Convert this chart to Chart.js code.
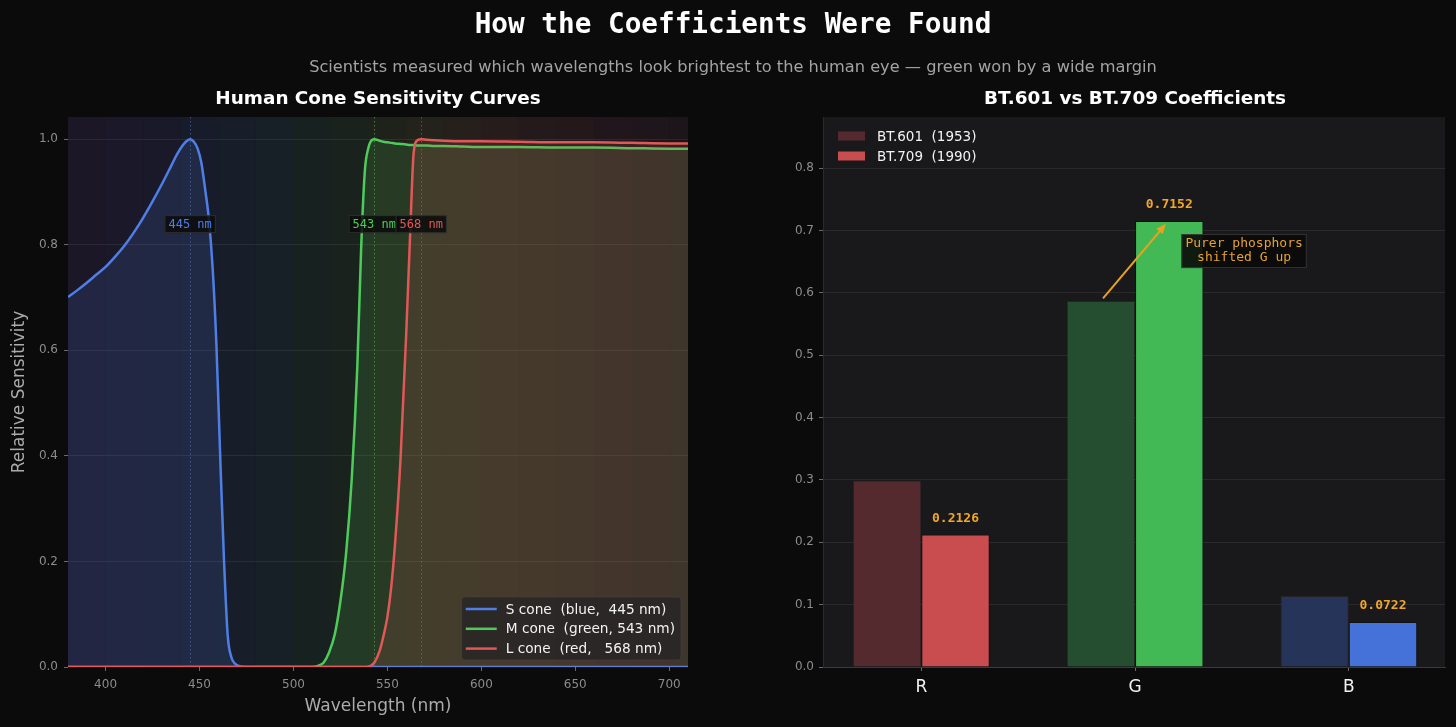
<!DOCTYPE html>
<html>
<head>
<meta charset="utf-8">
<script src="https://cdn.jsdelivr.net/npm/chart.js@4.4.1/dist/chart.umd.min.js"></script>
<style>
html,body{margin:0;padding:0;background:#0b0b0b;width:1456px;height:727px;overflow:hidden;}
#wrap{position:relative;width:1456px;height:727px;}
canvas{position:absolute;top:0;}
.t{position:absolute;white-space:nowrap;transform:translate(-50%,-50%);line-height:1;}
</style>
</head>
<body>
<div id="wrap">
<canvas id="left" width="728" height="727" style="left:0;width:728px;height:727px"></canvas>
<canvas id="right" width="728" height="727" style="left:728px;width:728px;height:727px"></canvas>
<div class="t" style="left:733px;top:23px;font:bold 27.7px 'DejaVu Sans Mono';color:#ffffff">How the Coefficients Were Found</div>
<div class="t" style="left:733px;top:66px;font:16.2px 'DejaVu Sans';color:#a3a3a3">Scientists measured which wavelengths look brightest to the human eye — green won by a wide margin</div>
<div class="t" style="left:378px;top:97px;font:bold 18.4px 'DejaVu Sans';color:#ffffff">Human Cone Sensitivity Curves</div>
<div class="t" style="left:1135px;top:97px;font:bold 18.4px 'DejaVu Sans';color:#ffffff">BT.601 vs BT.709 Coefficients</div>
</div>
<script>
// ---------------- data ----------------
const wavelengths = [380,385,390,395,400,405,410,415,420,425,430,435,438,441,443,445,447,449,451,453,455,457,459,461,463,465,467,469,472,476,480,490,500,510,513,516,519,522,525,528,531,534,536,538,540,541,543,546,548,550,552,554,557,560,562,564,566,568,571,575,580,590,600,620,640,660,680,700,710];
const sCone = [0.701,0.714,0.728,0.743,0.758,0.777,0.798,0.823,0.851,0.882,0.915,0.950,0.971,0.988,0.996,1.000,0.995,0.982,0.955,0.905,0.848,0.755,0.610,0.400,0.205,0.060,0.018,0.006,0.001,0,0,0,0,0,0,0,0,0,0,0,0,0,0,0,0,0,0,0,0,0,0,0,0,0,0,0,0,0,0,0,0,0,0,0,0,0,0,0,0];
const mCone = [0,0,0,0,0,0,0,0,0,0,0,0,0,0,0,0,0,0,0,0,0,0,0,0,0,0,0,0,0,0,0,0,0,0,0.002,0.008,0.028,0.062,0.125,0.215,0.355,0.570,0.790,0.940,0.985,0.995,1.000,0.997,0.995,0.994,0.993,0.992,0.991,0.990,0.989,0.989,0.988,0.988,0.988,0.987,0.987,0.986,0.985,0.985,0.984,0.984,0.983,0.982,0.982];
const lCone = [0,0,0,0,0,0,0,0,0,0,0,0,0,0,0,0,0,0,0,0,0,0,0,0,0,0,0,0,0,0,0,0,0,0,0,0,0,0,0,0,0,0,0,0,0.001,0.002,0.008,0.032,0.060,0.095,0.150,0.230,0.395,0.630,0.810,0.975,0.998,1.000,0.999,0.998,0.997,0.996,0.996,0.995,0.994,0.994,0.993,0.992,0.992];
const coneLabels = ['S cone  (blue,  445 nm)','M cone  (green, 543 nm)','L cone  (red,   568 nm)'];
const peakWavelengths = [445, 543, 568];
const peakLabels = ['445 nm', '543 nm', '568 nm'];
const peakLabelLevel = 0.839;
const wlTicks = [400,450,500,550,600,650,700];
const sensTicks = [0,0.2,0.4,0.6,0.8,1.0];

const channels = ['R','G','B'];
const bt601 = [0.299, 0.587, 0.114];
const bt709 = [0.2126, 0.7152, 0.0722];
const standardLabels = ['BT.601  (1953)', 'BT.709  (1990)'];
const coefTicks = [0,0.1,0.2,0.3,0.4,0.5,0.6,0.7,0.8];
const arrowTail = [0.85, 0.591];
const arrowHead = [1.145, 0.711];
const noteAt = [1.51, 0.667];
const noteLines = ['Purer phosphors', 'shifted G up'];

// ---------------- styles ----------------
const coneColors = ['#4f7fe6', '#4fcb5c', '#e05858'];
const coneFills = ['rgba(79,127,230,0.15)', 'rgba(79,203,92,0.15)', 'rgba(224,88,88,0.15)'];
const spectrumBands = [
  [380,400,'120,40,200'],[400,420,'106,60,220'],[420,440,'75,75,232'],[440,460,'60,110,240'],
  [460,480,'40,140,224'],[480,500,'32,170,190'],[500,520,'40,190,100'],[520,540,'90,200,50'],
  [540,560,'160,205,30'],[560,580,'210,205,30'],[580,600,'240,170,30'],[600,620,'240,120,30'],
  [620,640,'235,80,30'],[640,660,'220,50,30'],[660,680,'190,35,30'],[680,700,'160,25,25'],[700,710,'120,20,20']
];
const fontSans = "'DejaVu Sans'";
const fontMono = "'DejaVu Sans Mono'";

// ---------------- left chart ----------------
const toPts = arr => wavelengths.map((w, i) => ({x: w, y: arr[i]}));

const leftPlugin = {
  id: 'leftDecor',
  beforeDraw(chart) {
    const {ctx, chartArea: a, scales: {x}} = chart;
    ctx.save();
    ctx.fillStyle = '#16161b';
    ctx.fillRect(a.left, a.top, a.right - a.left, a.bottom - a.top);
    spectrumBands.forEach(([w0, w1, rgb]) => {
      const p0 = Math.max(a.left, x.getPixelForValue(w0));
      const p1 = Math.min(a.right, x.getPixelForValue(w1));
      ctx.fillStyle = 'rgba(' + rgb + ',0.07)';
      ctx.fillRect(p0, a.top, p1 - p0, a.bottom - a.top);
    });
    ctx.restore();
  },
  beforeDatasetsDraw(chart) {
    const {ctx, chartArea: a, scales: {x}} = chart;
    ctx.save();
    ctx.lineWidth = 1;
    ctx.setLineDash([1.5, 2.5]);
    peakWavelengths.forEach((w, i) => {
      const px = Math.round(x.getPixelForValue(w)) + 0.5;
      ctx.strokeStyle = coneColors[i];
      ctx.globalAlpha = 0.55;
      ctx.beginPath(); ctx.moveTo(px, a.top); ctx.lineTo(px, a.bottom); ctx.stroke();
    });
    ctx.restore();
  },
  afterDatasetsDraw(chart) {
    const {ctx, chartArea: a, scales: {x, y}} = chart;
    ctx.save();
    ctx.font = '12px ' + fontMono;
    ctx.textAlign = 'center';
    ctx.textBaseline = 'middle';
    peakWavelengths.forEach((w, i) => {
      const px = x.getPixelForValue(w);
      const py = y.getPixelForValue(peakLabelLevel);
      const tw = ctx.measureText(peakLabels[i]).width;
      const bw = tw + 8, bh = 18;
      ctx.fillStyle = 'rgba(10,10,10,0.85)';
      ctx.fillRect(px - bw / 2, py - bh / 2, bw, bh);
      ctx.strokeStyle = 'rgba(70,70,70,0.6)';
      ctx.lineWidth = 1;
      ctx.strokeRect(px - bw / 2 + 0.5, py - bh / 2 + 0.5, bw - 1, bh - 1);
      ctx.fillStyle = coneColors[i];
      ctx.fillText(peakLabels[i], px, py + 0.5);
    });
    // legend (bottom-right inside plot)
    ctx.font = '13.7px ' + fontSans;
    const texts = chart.data.datasets.map(d => d.label);
    const maxW = Math.max(...texts.map(t => ctx.measureText(t).width));
    const bw = 44 + maxW + 6, bh = 63;
    const bx = a.right - 7 - bw, by = a.bottom - 7 - bh;
    ctx.fillStyle = 'rgba(40,38,37,0.88)';
    ctx.beginPath();
    ctx.roundRect ? ctx.roundRect(bx, by, bw, bh, 3) : ctx.rect(bx, by, bw, bh);
    ctx.fill();
    ctx.strokeStyle = 'rgba(70,68,66,0.6)';
    ctx.lineWidth = 1;
    ctx.stroke();
    ctx.textAlign = 'left';
    ctx.textBaseline = 'middle';
    texts.forEach((t, i) => {
      const cy = by + 12 + i * 19.8;
      ctx.strokeStyle = chart.data.datasets[i].borderColor;
      ctx.lineWidth = 2.5;
      ctx.beginPath(); ctx.moveTo(bx + 4, cy); ctx.lineTo(bx + 35, cy); ctx.stroke();
      ctx.fillStyle = '#f2f2f2';
      ctx.fillText(t, bx + 44, cy + 1);
    });
    ctx.restore();
  }
};

new Chart(document.getElementById('left'), {
  type: 'line',
  data: {
    datasets: [
      {label: coneLabels[0], data: toPts(sCone), borderColor: coneColors[0], backgroundColor: coneFills[0], fill: 'origin', order: 2},
      {label: coneLabels[1], data: toPts(mCone), borderColor: coneColors[1], backgroundColor: coneFills[1], fill: 'origin', order: 3},
      {label: coneLabels[2], data: toPts(lCone), borderColor: coneColors[2], backgroundColor: coneFills[2], fill: 'origin', order: 1}
    ]
  },
  options: {
    responsive: false,
    animation: false,
    devicePixelRatio: 1,
    layout: {padding: {top: 117, right: 40, left: 0, bottom: 0}},
    elements: {
      line: {borderWidth: 2.5, cubicInterpolationMode: 'monotone'},
      point: {radius: 0, hoverRadius: 0}
    },
    plugins: {legend: {display: false}, tooltip: {enabled: false}, title: {display: false}},
    scales: {
      x: {
        type: 'linear', min: 380, max: 710,
        afterFit(s) { s.height = 60; },
        afterBuildTicks(s) { s.ticks = wlTicks.map(v => ({value: v})); },
        grid: {drawOnChartArea: false, tickLength: 4, tickColor: '#6a6a6a'},
        border: {display: false},
        ticks: {color: '#8c8c8c', font: {family: fontSans, size: 12}, padding: 7, maxRotation: 0},
        title: {display: true, text: 'Wavelength (nm)', color: '#ababab', font: {family: fontSans, size: 17}, padding: {top: 0, bottom: 10}}
      },
      y: {
        min: 0, max: 1.042,
        afterFit(s) { s.width = 68; },
        afterBuildTicks(s) { s.ticks = sensTicks.map(v => ({value: v})); },
        grid: {color: 'rgba(255,255,255,0.075)', tickLength: 4, tickColor: '#6a6a6a'},
        border: {display: false},
        ticks: {color: '#8c8c8c', font: {family: fontSans, size: 12}, padding: 6, callback: v => Number(v).toFixed(1)},
        title: {display: true, text: 'Relative Sensitivity', color: '#ababab', font: {family: fontSans, size: 17}, padding: {top: 9, bottom: 0}}
      }
    }
  },
  plugins: [leftPlugin]
});

// ---------------- right chart ----------------
const c601 = ['#542a2e', '#254d30', '#26345a'];
const c709 = ['#c94c4f', '#42b954', '#4472d8'];

const rightPlugin = {
  id: 'rightDecor',
  beforeDraw(chart) {
    const {ctx, chartArea: a} = chart;
    ctx.save();
    ctx.fillStyle = '#19191c';
    ctx.fillRect(a.left, a.top, a.right - a.left, a.bottom - a.top);
    ctx.restore();
  },
  afterDatasetsDraw(chart) {
    const {ctx, chartArea: a, scales: {x, y}} = chart;
    ctx.save();
    // value labels over BT.709 bars
    const meta = chart.getDatasetMeta(1);
    ctx.font = 'bold 13px ' + fontMono;
    ctx.fillStyle = '#f2a62a';
    ctx.textAlign = 'center';
    ctx.textBaseline = 'middle';
    meta.data.forEach((el, i) => {
      ctx.fillText(bt709[i].toFixed(4), el.x, el.y - 16);
    });
    // arrow
    const x1 = x.getPixelForValue(arrowTail[0]), y1 = y.getPixelForValue(arrowTail[1]);
    const x2 = x.getPixelForValue(arrowHead[0]), y2 = y.getPixelForValue(arrowHead[1]);
    const ang = Math.atan2(y2 - y1, x2 - x1);
    const head = 11;
    ctx.strokeStyle = '#e8a21e';
    ctx.fillStyle = '#e8a21e';
    ctx.lineWidth = 2;
    ctx.beginPath();
    ctx.moveTo(x1, y1);
    ctx.lineTo(x2 - head * 0.7 * Math.cos(ang), y2 - head * 0.7 * Math.sin(ang));
    ctx.stroke();
    ctx.beginPath();
    ctx.moveTo(x2, y2);
    ctx.lineTo(x2 - head * Math.cos(ang - 0.38), y2 - head * Math.sin(ang - 0.38));
    ctx.lineTo(x2 - head * Math.cos(ang + 0.38), y2 - head * Math.sin(ang + 0.38));
    ctx.closePath();
    ctx.fill();
    // note box
    const nx = x.getPixelForValue(noteAt[0]), ny = y.getPixelForValue(noteAt[1]);
    ctx.font = '13px ' + fontMono;
    const nw = Math.max(...noteLines.map(t => ctx.measureText(t).width)) + 8;
    const nh = 34;
    ctx.fillStyle = 'rgba(10,10,10,0.9)';
    ctx.fillRect(nx - nw / 2, ny - nh / 2, nw, nh);
    ctx.strokeStyle = 'rgba(70,70,70,0.7)';
    ctx.lineWidth = 1;
    ctx.strokeRect(nx - nw / 2 + 0.5, ny - nh / 2 + 0.5, nw - 1, nh - 1);
    ctx.fillStyle = '#e8a230';
    noteLines.forEach((t, i) => ctx.fillText(t, nx, ny - 7 + i * 14));
    // legend (top-left)
    ctx.font = '13.5px ' + fontSans;
    ctx.textAlign = 'left';
    chart.data.datasets.forEach((d, i) => {
      const cy = a.top + 19 + i * 20;
      ctx.fillStyle = d.backgroundColor[0];
      ctx.fillRect(a.left + 15, cy - 4.5, 27, 9);
      ctx.fillStyle = '#f2f2f2';
      ctx.fillText(d.label, a.left + 54, cy + 1);
    });
    ctx.restore();
  }
};

new Chart(document.getElementById('right'), {
  type: 'bar',
  data: {
    datasets: [
      {label: standardLabels[0], data: channels.map((c, i) => ({x: i, y: bt601[i]})), backgroundColor: c601, borderColor: 'rgba(255,255,255,0.05)', borderWidth: 1},
      {label: standardLabels[1], data: channels.map((c, i) => ({x: i, y: bt709[i]})), backgroundColor: c709, borderColor: 'rgba(0,0,0,0.35)', borderWidth: 1}
    ]
  },
  options: {
    responsive: false,
    animation: false,
    devicePixelRatio: 1,
    layout: {padding: {top: 117, right: 11, left: 0, bottom: 0}},
    datasets: {bar: {categoryPercentage: 0.64, barPercentage: 1.0}},
    plugins: {legend: {display: false}, tooltip: {enabled: false}, title: {display: false}},
    scales: {
      x: {
        type: 'linear', min: -0.46, max: 2.45, offset: false,
        afterFit(s) { s.height = 60; },
        afterBuildTicks(s) { s.ticks = channels.map((c, i) => ({value: i})); },
        grid: {drawOnChartArea: false, offset: false, tickLength: 4, tickColor: '#6a6a6a'},
        border: {display: true, color: '#3a3a3d', width: 1},
        ticks: {color: '#f2f2f2', font: {family: fontSans, size: 17}, padding: 6, maxRotation: 0, callback: v => channels[v] || ''}
      },
      y: {
        min: 0, max: 0.882,
        afterFit(s) { s.width = 95; },
        afterBuildTicks(s) { s.ticks = coefTicks.map(v => ({value: v})); },
        grid: {color: 'rgba(255,255,255,0.075)', tickLength: 4, tickColor: '#6a6a6a'},
        border: {display: true, color: '#2a2a2d', width: 1},
        ticks: {color: '#8c8c8c', font: {family: fontSans, size: 12}, padding: 5, callback: v => Number(v).toFixed(1)}
      }
    }
  },
  plugins: [rightPlugin]
});
</script>
</body>
</html>
